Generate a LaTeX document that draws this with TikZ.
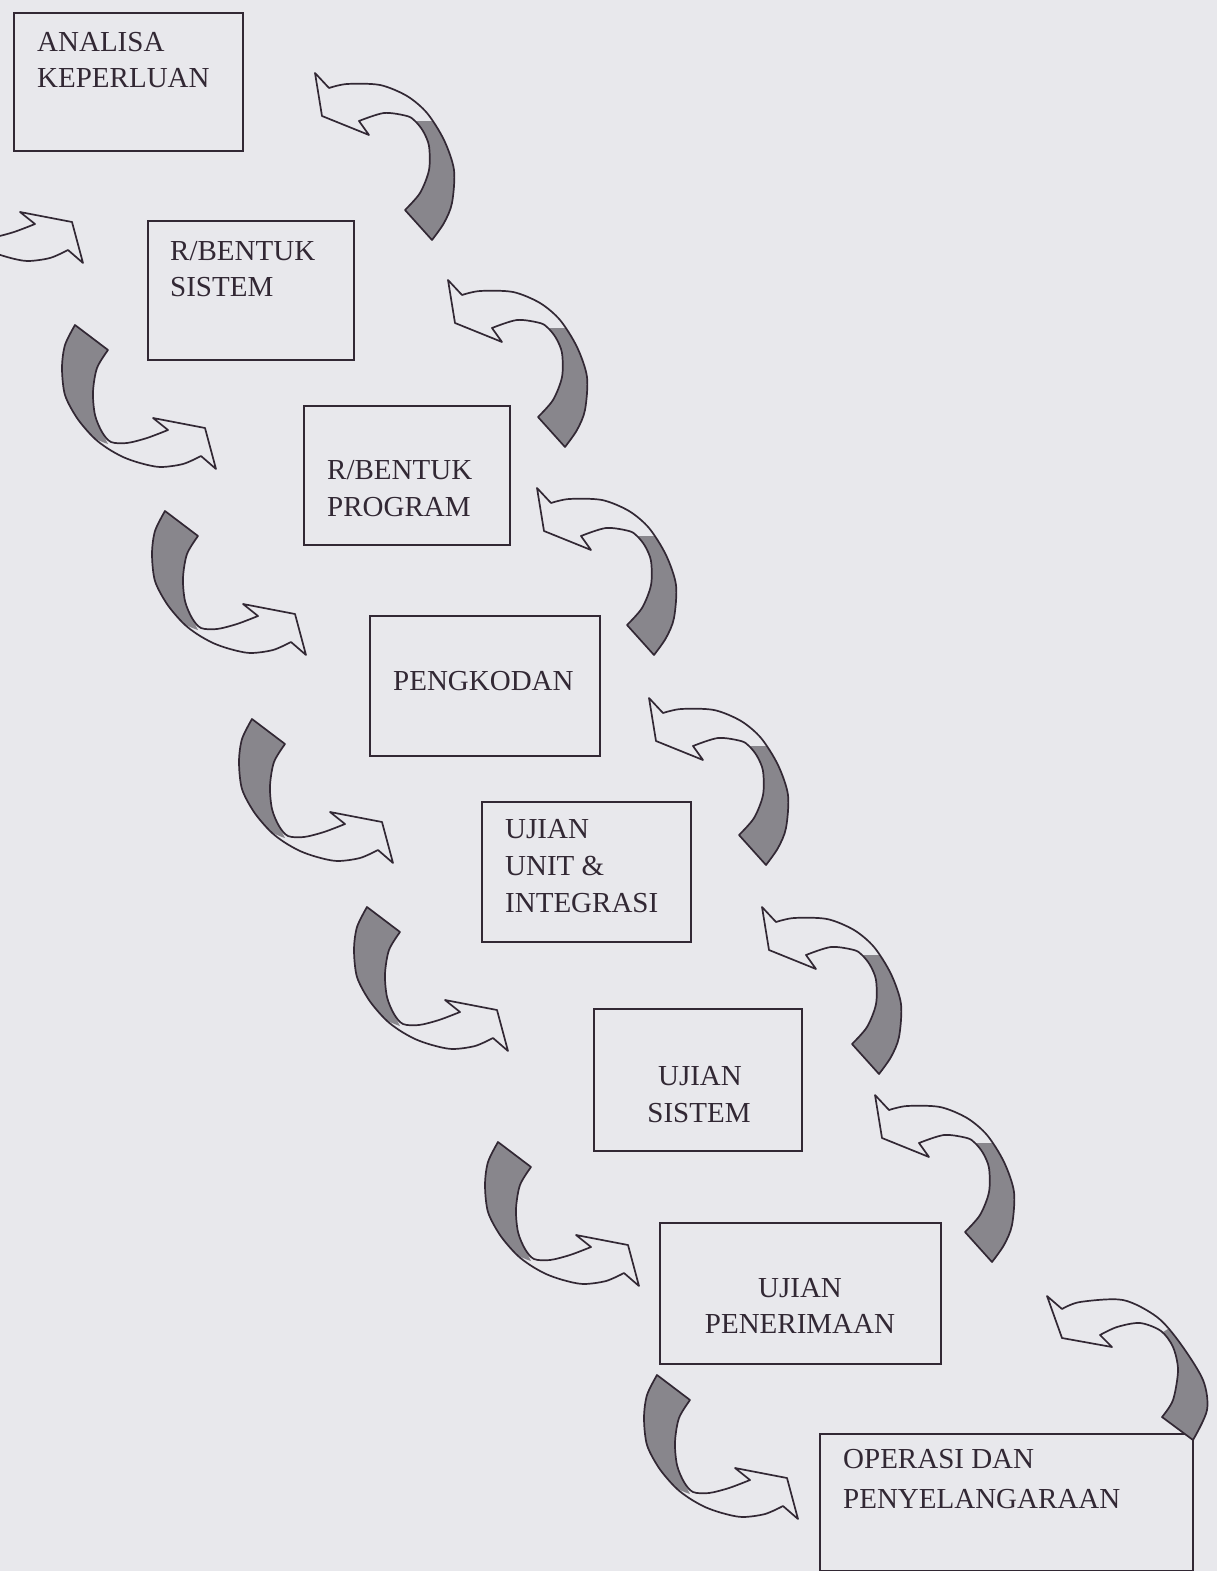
\documentclass[tikz,border=0pt]{standalone}
\usepackage{fontspec}
\setmainfont{Liberation Serif}

\definecolor{paper}{RGB}{232,232,236}
\definecolor{ink}{RGB}{50,40,52}
\definecolor{twist}{RGB}{136,134,140}

\tikzset{
  stagebox/.style={draw=ink, line width=2pt, inner sep=0pt, anchor=north west},
  stagetext/.style={font=\fontsize{29}{35}\selectfont, text=ink, inner sep=0pt, anchor=base west},
  stagetextc/.style={font=\fontsize{29}{35}\selectfont, text=ink, inner sep=0pt, anchor=base},
  ribbonline/.style={draw=ink, line width=1.7pt, line join=round},
  ribbonback/.style={fill=twist},
}

% Forward stage arrow: the tail (grey, twisted) sits at the top left,
% the ribbon sweeps down and turns right into the head.
\newcommand{\flowfwd}[1]{%
  \begin{scope}[shift={#1}]
    \fill[ribbonback] plot[smooth] coordinates {(0,0) (-10,20) (-13,43) (-10,70) (2,93) (18,112) (33,119)}
      -- plot[smooth] coordinates {(33,119) (27,107) (20,90) (18,67) (22,43) (33,25)} -- cycle;
    \draw[ribbonline] plot[smooth] coordinates {(0,0) (-10,20) (-13,43) (-10,70) (2,93) (18,112) (32,123) (48,132) (65,138) (85,142) (108,139) (126,131)}
      -- (141,144) -- (130,103) -- (78,93) -- (93,105)
      -- plot[smooth] coordinates {(93,105) (72,113) (52,118) (36,117) (27,107) (20,90) (18,67) (22,43) (33,25)} -- cycle;
  \end{scope}}

% Feedback arrow: the tail sits at the bottom right, the ribbon climbs
% and bends left into the head pointing back at the previous stage.
\newcommand{\flowback}[1]{%
  \begin{scope}[shift={#1}]
    \fill[ribbonback] plot[smooth] coordinates {(118,48) (129,67) (139,97) (137,130) (129,150) (117,167)}
      -- plot[smooth] coordinates {(90,137) (105,120) (114,97) (114,73) (108,58) (101,48)} -- cycle;
    \draw[ribbonline] (0,0) -- (14,15)
      -- plot[smooth] coordinates {(14,15) (32,11) (65,12) (92,23) (112,40) (129,67) (139,97) (137,130) (129,150) (117,167)}
      -- (90,137)
      -- plot[smooth] coordinates {(90,137) (105,120) (114,97) (114,73) (108,58) (100,48) (92,43) (69,40) (44,48)}
      -- (54,62) -- (7,43) -- cycle;
  \end{scope}}

% Wider, flatter feedback arrow used beside the last stage.
\newcommand{\flowbackwide}[1]{%
  \begin{scope}[shift={#1}]
    \fill[ribbonback] plot[smooth] coordinates {(121,33) (133,47) (156,84) (160,114) (146,144)}
      -- plot[smooth] coordinates {(115,121) (126,104) (131,74) (126,51) (116,36)} -- cycle;
    \draw[ribbonline] (0,0) -- (15,13)
      -- plot[smooth] coordinates {(15,13) (33,6) (76,4) (110,21) (133,47) (156,84) (160,114) (146,144)}
      -- (115,121)
      -- plot[smooth] coordinates {(115,121) (126,104) (131,74) (126,51) (114,35) (93,27) (70,31) (53,39)}
      -- (65,51) -- (15,42) -- cycle;
  \end{scope}}

\begin{document}
\begin{tikzpicture}[x=1pt,y=-1pt]
  \useasboundingbox (0,0) rectangle (1217,1571);
  \fill[paper] (0,0) rectangle (1217,1571);

  \begin{scope}
    \clip (0,0) rectangle (1217,1571);

    % stage boxes
    \node[stagebox, minimum width=229, minimum height=138] (analisa) at (13,12) {};
    \node[stagebox, minimum width=206, minimum height=139] (rbsistem) at (147,220) {};
    \node[stagebox, minimum width=206, minimum height=139] (rbprogram) at (303,405) {};
    \node[stagebox, minimum width=230, minimum height=140] (pengkodan) at (369,615) {};
    \node[stagebox, minimum width=209, minimum height=140] (ujianunit) at (481,801) {};
    \node[stagebox, minimum width=208, minimum height=142] (ujiansistem) at (593,1008) {};
    \node[stagebox, minimum width=281, minimum height=141] (ujianterima) at (659,1222) {};
    \node[stagebox, minimum width=373, minimum height=137] (operasi) at (819,1433) {};

    % stage labels
    \node[stagetext] (analisaA) at (37,52) {ANALISA};
    \node[stagetext] (analisaB) at (37,88) {KEPERLUAN};
    \node[stagetext] (rbsistemA) at (170,260) {R/BENTUK};
    \node[stagetext] (rbsistemB) at (170,296) {SISTEM};
    \node[stagetext] (rbprogramA) at (327,479) {R/BENTUK};
    \node[stagetext] (rbprogramB) at (327,516) {PROGRAM};
    \node[stagetext] (pengkodanA) at (393,690) {PENGKODAN};
    \node[stagetext] (ujianunitA) at (505,838) {UJIAN};
    \node[stagetext] (ujianunitB) at (505,875) {UNIT \&};
    \node[stagetext] (ujianunitC) at (505,912) {INTEGRASI};
    \node[stagetextc] (ujiansistemA) at (700,1085) {UJIAN};
    \node[stagetextc] (ujiansistemB) at (699,1122) {SISTEM};
    \node[stagetextc] (ujianterimaA) at (800,1297) {UJIAN};
    \node[stagetextc] (ujianterimaB) at (800,1333) {PENERIMAAN};
    \node[stagetext] (operasiA) at (843,1468) {OPERASI DAN};
    \node[stagetext] (operasiB) at (843,1508) {PENYELANGARAAN};

    % anchor points of the forward arrows (tail corner)
    \coordinate (fwdA) at (-58,119);
    \coordinate (fwdB) at (75,325);
    \coordinate (fwdC) at (165,511);
    \coordinate (fwdD) at (252,719);
    \coordinate (fwdE) at (367,907);
    \coordinate (fwdF) at (498,1142);
    \coordinate (fwdG) at (657,1375);
    \flowfwd{(fwdA)}
    \flowfwd{(fwdB)}
    \flowfwd{(fwdC)}
    \flowfwd{(fwdD)}
    \flowfwd{(fwdE)}
    \flowfwd{(fwdF)}
    \flowfwd{(fwdG)}

    % anchor points of the feedback arrows (head corner)
    \coordinate (backA) at (315,73);
    \coordinate (backB) at (448,280);
    \coordinate (backC) at (537,488);
    \coordinate (backD) at (649,698);
    \coordinate (backE) at (762,907);
    \coordinate (backF) at (875,1095);
    \coordinate (backG) at (1047,1296);
    \flowback{(backA)}
    \flowback{(backB)}
    \flowback{(backC)}
    \flowback{(backD)}
    \flowback{(backE)}
    \flowback{(backF)}
    \flowbackwide{(backG)}
  \end{scope}
\end{tikzpicture}
\end{document}
